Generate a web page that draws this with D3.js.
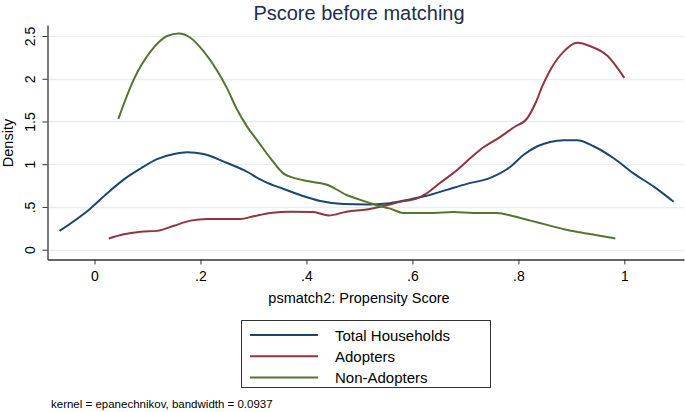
<!DOCTYPE html>
<html>
  <head>
    <meta charset="utf-8">
    <title>Pscore before matching</title>
    <script src="https://cdnjs.cloudflare.com/ajax/libs/d3/7.8.5/d3.min.js"></script>
    <style>
      body { margin: 0; background: #fff; }
      text { font-family: "Liberation Sans", Arial, sans-serif; }
    </style>
  </head>
  <body>
    <script>
      // kernel density estimates
      var totalX = [-0.066, -0.008, 0.024, 0.055, 0.087, 0.118, 0.15, 0.175, 0.206, 0.244, 0.282, 0.32, 0.357, 0.388, 0.426, 0.47, 0.514, 0.552, 0.589, 0.627, 0.665, 0.703, 0.747, 0.785, 0.81, 0.836, 0.86, 0.886, 0.911, 0.942, 0.98, 1.018, 1.055, 1.093];
      var totalY = [0.22, 0.48, 0.66, 0.82, 0.95, 1.06, 1.12, 1.14, 1.12, 1.03, 0.93, 0.80, 0.71, 0.64, 0.57, 0.535, 0.53, 0.54, 0.58, 0.63, 0.70, 0.77, 0.84, 0.97, 1.11, 1.21, 1.26, 1.28, 1.28, 1.21, 1.07, 0.89, 0.74, 0.56];

      var adoptX = [0.027, 0.055, 0.087, 0.118, 0.15, 0.181, 0.213, 0.244, 0.275, 0.3, 0.332, 0.37, 0.413, 0.442, 0.476, 0.514, 0.545, 0.577, 0.609, 0.627, 0.652, 0.684, 0.728, 0.766, 0.791, 0.817, 0.832, 0.845, 0.86, 0.886, 0.911, 0.936, 0.968, 1.0];
      var adoptY = [0.13, 0.18, 0.21, 0.22, 0.28, 0.34, 0.36, 0.36, 0.36, 0.39, 0.43, 0.445, 0.44, 0.40, 0.445, 0.47, 0.51, 0.56, 0.60, 0.66, 0.78, 0.93, 1.17, 1.32, 1.43, 1.54, 1.71, 1.91, 2.10, 2.32, 2.42, 2.38, 2.27, 2.01];

      var nonX = [0.045, 0.074, 0.106, 0.137, 0.159, 0.181, 0.206, 0.231, 0.25, 0.269, 0.288, 0.307, 0.332, 0.357, 0.376, 0.404, 0.439, 0.476, 0.508, 0.533, 0.558, 0.583, 0.602, 0.64, 0.677, 0.715, 0.76, 0.791, 0.823, 0.854, 0.886, 0.91, 0.948, 0.983];
      var nonY = [1.53, 1.99, 2.32, 2.50, 2.53, 2.48, 2.32, 2.10, 1.89, 1.64, 1.44, 1.28, 1.07, 0.89, 0.84, 0.80, 0.76, 0.64, 0.57, 0.52, 0.48, 0.43, 0.43, 0.43, 0.44, 0.43, 0.43, 0.39, 0.34, 0.29, 0.24, 0.21, 0.17, 0.13];

      var xTicks = [0, 0.2, 0.4, 0.6, 0.8, 1];
      var yTicks = [0, 0.5, 1, 1.5, 2, 2.5];
      var seriesNames = ["Total Households", "Adopters", "Non-Adopters"];
      var seriesColors = ["#1a476f", "#90353b", "#55752f"];

      var W = 685, H = 412;
      var svg = d3.select("body").append("svg")
        .attr("width", W)
        .attr("height", H);

      // plot region (window.top is read-only, so use other names)
      var plotL = 47.5, plotR = 684, plotT = 25, plotB = 259.5;

      var x = d3.scaleLinear().domain([-0.0887, 1.1126]).range([plotL, plotR]);
      var y = d3.scaleLinear().domain([-0.115, 2.629]).range([plotB, plotT]);

      function fmt(v) {
        return String(v).replace(/^0\./, ".");
      }

      // gridlines
      svg.append("g").selectAll("line").data(yTicks).enter().append("line")
        .attr("x1", plotL + 1).attr("x2", plotR)
        .attr("y1", function (d) { return Math.round(y(d)) + 0.5; })
        .attr("y2", function (d) { return Math.round(y(d)) + 0.5; })
        .attr("stroke", "#e6eef1")
        .attr("stroke-width", 1.5);

      // axes
      var xAxis = svg.append("g")
        .attr("transform", "translate(0," + plotB + ")")
        .call(d3.axisBottom(x).tickValues(xTicks).tickFormat(fmt).tickSize(5).tickPadding(7).tickSizeOuter(0));
      xAxis.selectAll("text").attr("font-size", 14).attr("fill", "#000")
        .style("font-family", "'Liberation Sans', Arial, sans-serif");

      var yAxis = svg.append("g")
        .attr("transform", "translate(" + plotL + ",0)")
        .call(d3.axisLeft(y).tickValues(yTicks).tickFormat(fmt).tickSize(5).tickSizeOuter(0));
      yAxis.selectAll("text")
        .attr("font-size", 14).attr("fill", "#000")
        .style("font-family", "'Liberation Sans', Arial, sans-serif")
        .attr("text-anchor", "middle")
        .attr("x", 0).attr("y", 0).attr("dy", 0)
        .attr("transform", "translate(-12.5,0) rotate(-90)");
      svg.selectAll(".domain").attr("stroke", "#333").attr("stroke-width", 1.3);
      svg.selectAll(".tick line").attr("stroke", "#333");

      // curves
      var line = d3.line()
        .x(function (d) { return x(d[0]); })
        .y(function (d) { return y(d[1]); })
        .curve(d3.curveMonotoneX);

      var series = [d3.zip(totalX, totalY), d3.zip(adoptX, adoptY), d3.zip(nonX, nonY)];
      svg.append("g").selectAll("path").data(series).enter().append("path")
        .attr("d", line)
        .attr("fill", "none")
        .attr("stroke", function (d, i) { return seriesColors[i]; })
        .attr("stroke-width", 2)
        .attr("stroke-linejoin", "round");

      // titles
      svg.append("text")
        .attr("x", 359).attr("y", 20)
        .attr("text-anchor", "middle")
        .attr("font-size", 20)
        .attr("fill", "#1e2c4f")
        .text("Pscore before matching");

      svg.append("text")
        .attr("x", 359).attr("y", 303)
        .attr("text-anchor", "middle")
        .attr("font-size", 14.5)
        .text("psmatch2: Propensity Score");

      svg.append("text")
        .attr("transform", "translate(13,143) rotate(-90)")
        .attr("text-anchor", "middle")
        .attr("font-size", 14.5)
        .text("Density");

      // legend
      var lg = svg.append("g");
      lg.append("rect")
        .attr("x", 241.5).attr("y", 320.5)
        .attr("width", 249).attr("height", 67)
        .attr("fill", "#fff").attr("stroke", "#333").attr("stroke-width", 1);
      seriesNames.forEach(function (name, i) {
        var ly = 335 + i * 21.3;
        lg.append("line")
          .attr("x1", 250).attr("x2", 318)
          .attr("y1", ly).attr("y2", ly)
          .attr("stroke", seriesColors[i]).attr("stroke-width", 2);
        lg.append("text")
          .attr("x", 335).attr("y", ly + 5.5)
          .attr("font-size", 15)
          .text(name);
      });

      svg.append("text")
        .attr("x", 51).attr("y", 408)
        .attr("font-size", 11.5)
        .text("kernel = epanechnikov, bandwidth = 0.0937");
    </script>
  </body>
</html>
